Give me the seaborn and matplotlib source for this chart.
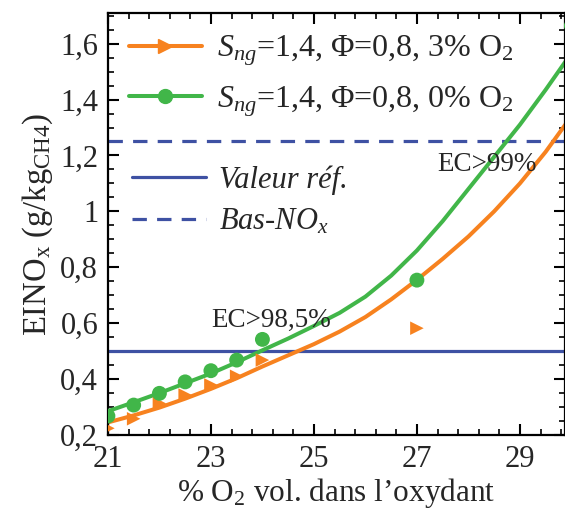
import numpy as np
import pandas as pd
import matplotlib
matplotlib.use("Agg")
import matplotlib.pyplot as plt
from matplotlib.lines import Line2D
from matplotlib.ticker import MultipleLocator, FixedLocator, FixedFormatter
import seaborn as sns

# measured points
o2_3pct_x = [21, 21.5, 22, 22.5, 23, 23.5, 24, 27]
o2_3pct_y = [0.224, 0.258, 0.313, 0.343, 0.379, 0.41, 0.468, 0.582]
o2_0pct_x = [21, 21.5, 22, 22.5, 23, 23.5, 24, 27, 30]
o2_0pct_y = [0.268, 0.307, 0.349, 0.390, 0.430, 0.468, 0.542, 0.754, 1.664]

# fitted curves
fit_x = [21, 21.5, 22, 22.5, 23, 23.5, 24, 24.5, 25, 25.5, 26, 26.5,
         27, 27.5, 28, 28.5, 29, 29.5, 29.9]
fit_3pct_y = [0.245, 0.27, 0.298, 0.33, 0.365, 0.403, 0.445, 0.485, 0.525,
              0.57, 0.622, 0.685, 0.755, 0.83, 0.91, 1.0, 1.1, 1.213, 1.315]
fit_0pct_y = [0.285, 0.317, 0.35, 0.385, 0.42, 0.46, 0.503, 0.545, 0.59,
              0.637, 0.695, 0.77, 0.86, 0.965, 1.08, 1.195, 1.31, 1.435, 1.54]

ref_value = 0.5
low_nox_value = 1.25

y_ticks = [0.2, 0.4, 0.6, 0.8, 1.0, 1.2, 1.4, 1.6]
y_tick_labels = ["0,2", "0,4", "0,6", "0,8", "1", "1,2", "1,4", "1,6"]
x_ticks = [21, 23, 25, 27, 29]
x_tick_labels = ["21", "23", "25", "27", "29"]

ORANGE = "#F7821F"
GREEN = "#41B649"
BLUE = "#3E51A3"
FS = 22

sns.set_theme(style="ticks")
plt.rcParams['font.family'] = ['Liberation Serif', 'DejaVu Serif']
plt.rcParams['mathtext.fontset'] = 'custom'
plt.rcParams['mathtext.rm'] = 'Liberation Serif'
plt.rcParams['mathtext.it'] = 'Liberation Serif:italic'
plt.rcParams['mathtext.bf'] = 'Liberation Serif:bold'

fig = plt.figure(figsize=(5.65, 5.16), dpi=100)
ax = fig.add_axes([0.191, 0.157, 0.8085, 0.818])

fit_df = pd.DataFrame({"x": fit_x, "y3": fit_3pct_y, "y0": fit_0pct_y})
pts3 = pd.DataFrame({"x": o2_3pct_x, "y": o2_3pct_y})
pts0 = pd.DataFrame({"x": o2_0pct_x, "y": o2_0pct_y})

ax.axhline(ref_value, color=BLUE, lw=2.3, zorder=1)
ax.axhline(low_nox_value, color=BLUE, lw=2.3, ls=(0, (4.5, 3.2)), zorder=1)

sns.lineplot(data=fit_df, x="x", y="y3", ax=ax, color=ORANGE, lw=2.9, zorder=2)
sns.lineplot(data=fit_df, x="x", y="y0", ax=ax, color=GREEN, lw=2.9, zorder=2)
sns.scatterplot(data=pts3, x="x", y="y", ax=ax, marker=">", s=95, color=ORANGE,
                edgecolor="none", zorder=3)
sns.scatterplot(data=pts0, x="x", y="y", ax=ax, marker="o", s=115, color=GREEN,
                edgecolor="none", zorder=3)

ax.text(24.17, 0.586, "EC>98,5%", fontsize=19.5, ha="center", va="baseline")
ax.text(28.36, 1.146, "EC>99%", fontsize=19.5, ha="center", va="baseline")

ax.set_xlim(21, 29.87)
ax.set_ylim(0.2, 1.71)
ax.xaxis.set_major_locator(FixedLocator(x_ticks))
ax.xaxis.set_major_formatter(FixedFormatter(x_tick_labels))
ax.xaxis.set_minor_locator(MultipleLocator(0.4, offset=0.2))
ax.yaxis.set_major_locator(FixedLocator(y_ticks))
ax.yaxis.set_major_formatter(FixedFormatter(y_tick_labels))
ax.yaxis.set_minor_locator(MultipleLocator(0.05))
ax.tick_params(which="both", direction="in", top=True, right=True,
               labelsize=FS, color="black", pad=7)
ax.tick_params(which="major", length=8, width=1.5)
ax.tick_params(which="minor", length=4.5, width=1.2)
for sp in ax.spines.values():
    sp.set_linewidth(1.6)
    sp.set_color("black")

ax.set_xlabel(r"% O$_2$ vol. dans l’oxydant", fontsize=22.5, labelpad=2)
ax.set_ylabel(r"EINO$_\mathrm{x}$ (g/kg$_\mathrm{CH4}$)", fontsize=23.5, labelpad=4)

h1 = [Line2D([], [], color=ORANGE, lw=2.9, marker=">", markersize=10),
      Line2D([], [], color=GREEN, lw=2.9, marker="o", markersize=10)]
l1 = [r"$S_{ng}$=1,4, Φ=0,8, 3% O$_2$", r"$S_{ng}$=1,4, Φ=0,8, 0% O$_2$"]
leg1 = ax.legend(h1, l1, loc="upper left", bbox_to_anchor=(0.0, 1.0), frameon=False,
                 fontsize=23, handlelength=2.3, handletextpad=0.45,
                 labelspacing=0.5, borderaxespad=0.25)
ax.add_artist(leg1)

h2 = [Line2D([], [], color=BLUE, lw=2.3),
      Line2D([], [], color=BLUE, lw=2.3, ls=(0, (4.5, 3.2)))]
l2 = ["Valeur réf.", "Bas-NO$_x$"]
ax.legend(h2, l2, loc="upper left", bbox_to_anchor=(0.0, 0.697), frameon=False,
          prop={"size": FS, "style": "italic"}, handlelength=2.4,
          handletextpad=0.45, labelspacing=0.4, borderaxespad=0.4)

fig.savefig("out.png", dpi=100)
